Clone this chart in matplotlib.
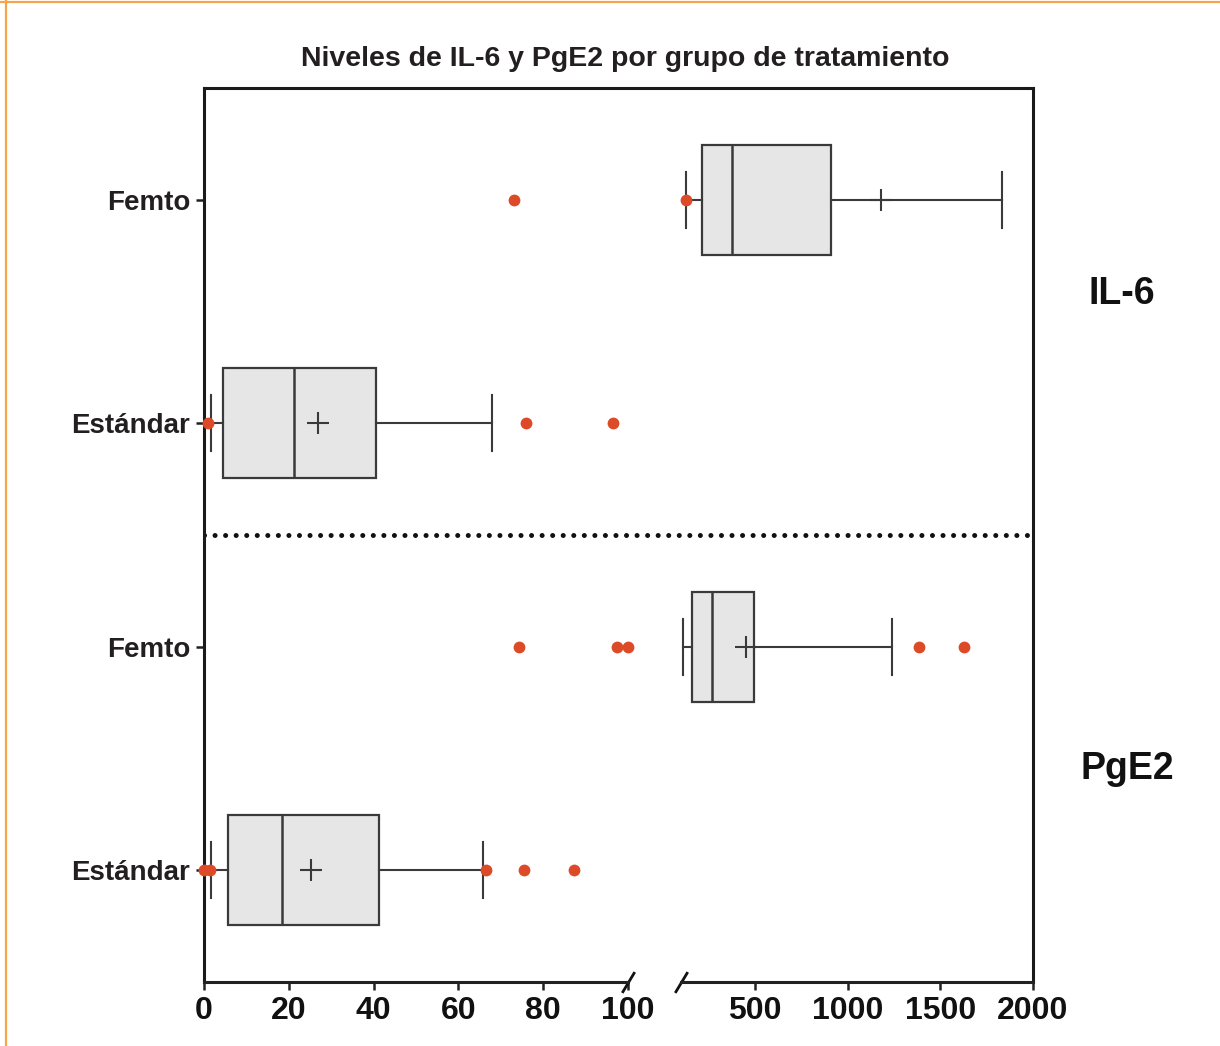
import matplotlib
matplotlib.use("Agg")
import matplotlib.pyplot as plt
from matplotlib.lines import Line2D

plt.rcParams['font.family'] = ['Liberation Sans', 'DejaVu Sans']
plt.rcParams['font.weight'] = 'bold'

# ---------------- data ----------------
categories = ['Femto', 'Estándar', 'Femto', 'Estándar']
marker_labels = ['IL-6', 'PgE2']
q1 = [212, 4.4, 159, 5.7]
med = [374, 21.2, 269, 18.3]
q3 = [908, 40.6, 494, 41.3]
whislo = [127, 1.6, 109, 1.65]
whishi = [1835, 68.0, 1241, 65.7]
means = [1178, 26.8, 449, 25.2]
fliers = [[73.1, 127],
          [1.0, 75.9, 96.5],
          [74.3, 97.5, 100.0, 1387, 1628],
          [0.0, 1.3, 66.6, 75.5, 87.3]]
left_ticks = [0, 20, 40, 60, 80, 100]
right_ticks = [500, 1000, 1500, 2000]
left_lim = (0, 100)
right_lim = (100, 2000)

# ---------------- layout ----------------
W, H = 1220, 1046
fig = plt.figure(figsize=(W / 100, H / 100), dpi=100)
bot = 1 - 982 / H
hgt = (982 - 88) / H
ax_frame = fig.add_axes([204 / W, bot, (1033 - 204) / W, hgt])
ax_l = fig.add_axes([204 / W, bot, (628 - 204) / W, hgt])
ax_r = fig.add_axes([681 / W, bot, (1033 - 681) / W, hgt])

ylim = (len(categories) - 0.5, -0.5)
positions = list(range(len(categories)))

# frame
ax_frame.set_xlim(0, 1)
ax_frame.set_ylim(*ylim)
ax_frame.set_xticks([])
ax_frame.set_yticks(positions)
ax_frame.set_yticklabels(categories, fontsize=20, fontweight='bold', color='#231f20')
ax_frame.tick_params(axis='y', length=6, width=1.8, pad=4, color='#231f20')
for s in ['top', 'left', 'right']:
    ax_frame.spines[s].set_linewidth(2.2)
    ax_frame.spines[s].set_color('#1a1a1a')
ax_frame.spines['bottom'].set_visible(False)
ax_frame.axhline(1.5, color='#111111', lw=3.6, linestyle=(0, (0.01, 2.1)),
                 dash_capstyle='round')

stats = []
for i in range(len(categories)):
    stats.append(dict(med=med[i], q1=q1[i], q3=q3[i], whislo=whislo[i],
                      whishi=whishi[i], mean=means[i], fliers=[]))

edge = '#3a3a3a'
for ax, lim, ticks in [(ax_l, left_lim, left_ticks), (ax_r, right_lim, right_ticks)]:
    ax.patch.set_alpha(0)
    ax.bxp(stats, positions=positions, orientation='horizontal', widths=0.49,
           capwidths=0.25, showmeans=True, showfliers=False, patch_artist=True,
           boxprops=dict(facecolor='#e6e6e6', edgecolor=edge, linewidth=1.6),
           medianprops=dict(color=edge, linewidth=1.8),
           whiskerprops=dict(color=edge, linewidth=1.5),
           capprops=dict(color=edge, linewidth=1.5),
           meanprops=dict(marker='+', markersize=16, markeredgecolor=edge,
                          markeredgewidth=1.5))
    for i, fl in enumerate(fliers):
        xs = [v for v in fl if lim[0] <= v <= lim[1]] if ax is ax_l else \
             [v for v in fl if v > lim[0]]
        ax.plot(xs, [positions[i]] * len(xs), linestyle='none', marker='o',
                markersize=8.5, markerfacecolor='#dd4a28', markeredgecolor='none',
                clip_on=False, zorder=5)
    ax.set_xlim(*lim)
    ax.set_ylim(*ylim)
    ax.set_yticks([])
    ax.set_xticks(ticks)
    ax.set_xticklabels([str(t) for t in ticks], fontsize=23, fontweight='bold',
                       color='#111111')
    ax.tick_params(axis='x', length=6, width=1.8, pad=4, color='#222222')
    for s in ['top', 'left', 'right']:
        ax.spines[s].set_visible(False)
    ax.spines['bottom'].set_linewidth(2.2)
    ax.spines['bottom'].set_color('#222222')

slash = dict(marker=[(-0.6, -1), (0.6, 1)], markersize=15, linestyle='none',
             color='#111111', mec='#111111', mew=2.0, clip_on=False)
ax_l.plot([1], [0], transform=ax_l.transAxes, **slash)
ax_r.plot([0], [0], transform=ax_r.transAxes, **slash)

# texts
fig.text(625 / W, 1 - 66 / H, 'Niveles de IL-6 y PgE2 por grupo de tratamiento',
         ha='center', va='baseline', fontsize=20.5, fontweight='bold', color='#231f20')
fig.text(1122 / W, 1 - 304 / H, marker_labels[0], ha='center', va='baseline',
         fontsize=27, fontweight='bold', color='#111111')
fig.text(1127 / W, 1 - 779 / H, marker_labels[1], ha='center', va='baseline',
         fontsize=27, fontweight='bold', color='#111111')

# orange border
fig.add_artist(Line2D([0, 1], [1 - 2 / H, 1 - 2 / H], transform=fig.transFigure,
                      color='#f6a54a', lw=1.6))
fig.add_artist(Line2D([6 / W, 6 / W], [0, 1], transform=fig.transFigure,
                      color='#f6a54a', lw=1.6))

fig.savefig('out.png', dpi=100)
